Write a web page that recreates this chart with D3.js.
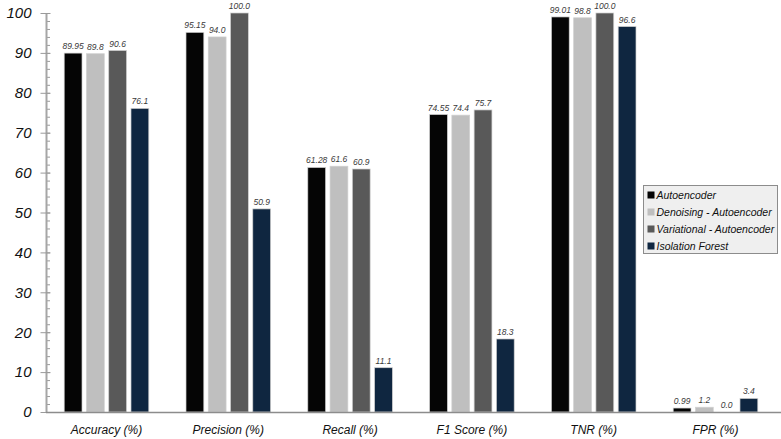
<!DOCTYPE html>
<html><head><meta charset="utf-8">
<script src="https://cdn.jsdelivr.net/npm/d3@7"></script>
<style>body{margin:0;background:#fff}svg{display:block}text{font-family:"Liberation Sans",Arial,sans-serif;font-style:italic}</style>
</head><body><svg id="c" width="781" height="439"></svg>
<script>
const categories = ["Accuracy (%)","Precision (%)","Recall (%)","F1 Score (%)","TNR (%)","FPR (%)"];
const seriesNames = ["Autoencoder","Denoising - Autoencoder","Variational - Autoencoder","Isolation Forest"];
const autoencoder = [89.95,95.15,61.28,74.55,99.01,0.99];
const denoising = [89.8,94.0,61.6,74.4,98.8,1.2];
const variational = [90.6,100.0,60.9,75.7,100.0,0.0];
const isolation = [76.1,50.9,11.1,18.3,96.6,3.4];
const yTicks = [0,10,20,30,40,50,60,70,80,90,100];
const colors = ["#050505","#bfbfbf","#595959","#0f2640"];
const formats = [".2f",".1f",".1f",".1f"];
const series = [autoencoder,denoising,variational,isolation];

const svg = d3.select("#c");
const y = d3.scaleLinear().domain([0,100]).range([412,13]);
const x0 = d3.scaleBand().domain(categories).range([45.6,776.4]);
const inner = 84.6;
const x1 = d3.scaleBand().domain(seriesNames).range([0,inner]).paddingInner(0.2).paddingOuter(0);
const off = (x0.bandwidth()-inner)/2;

// minor ticks
svg.append("g").selectAll("line").data(d3.range(0,101,2)).join("line")
  .attr("x1",46).attr("x2",50).attr("y1",d=>y(d)+0.5).attr("y2",d=>y(d)+0.5)
  .attr("stroke","#9a9a9a").attr("stroke-width",1);
// y axis
const ya = d3.axisLeft(y).tickValues(yTicks).tickSize(6).tickSizeOuter(0).tickPadding(9);
const gy = svg.append("g").attr("transform","translate(46.5,0)").call(ya);
gy.select(".domain").attr("stroke","#a6a6a6").attr("stroke-width",2).attr("d","M0,412V13");
gy.selectAll(".tick line").attr("stroke","#9a9a9a").attr("x2",-6).attr("x1",4);
gy.selectAll(".tick text").attr("font-size",15).attr("fill","#111").attr("font-family","Liberation Sans, Arial, sans-serif").attr("font-style","italic");

// bars
seriesNames.forEach((s,i)=>{
  const g = svg.append("g");
  g.selectAll("rect").data(series[i]).join("rect")
    .attr("x",(d,j)=>x0(categories[j])+off+x1(s))
    .attr("y",d=>y(d))
    .attr("width",x1.bandwidth())
    .attr("height",d=>y(0)-y(d))
    .attr("fill",colors[i]).attr("stroke","#d0d0d0").attr("stroke-width",0.7);
  g.selectAll("text").data(series[i]).join("text")
    .attr("x",(d,j)=>x0(categories[j])+off+x1(s)+x1.bandwidth()/2)
    .attr("y",d=>y(d)-4)
    .attr("text-anchor","middle").attr("font-size",8.5).attr("fill","#3a3a3a")
    .text(d=>d3.format(formats[i])(d));
});

// x axis baseline
svg.append("line").attr("x1",46).attr("x2",781).attr("y1",412.5).attr("y2",412.5)
  .attr("stroke","#8c8c8c").attr("stroke-width",1.5);
svg.append("g").selectAll("text").data(categories).join("text")
  .attr("x",d=>x0(d)+x0.bandwidth()/2).attr("y",434)
  .attr("text-anchor","middle").attr("font-size",12).attr("fill","#111").text(d=>d);

// legend
const lg = svg.append("g").attr("transform","translate(643.5,185.5)");
lg.append("rect").attr("width",134).attr("height",68).attr("fill","#efefef").attr("stroke","#8c8c8c");
seriesNames.forEach((s,i)=>{
  lg.append("rect").attr("x",4).attr("y",6+i*17).attr("width",7).attr("height",7).attr("fill",colors[i]);
  lg.append("text").attr("x",13).attr("y",13.5+i*17).attr("font-size",10.5).attr("fill","#111").text(s);
});
</script></body></html>
